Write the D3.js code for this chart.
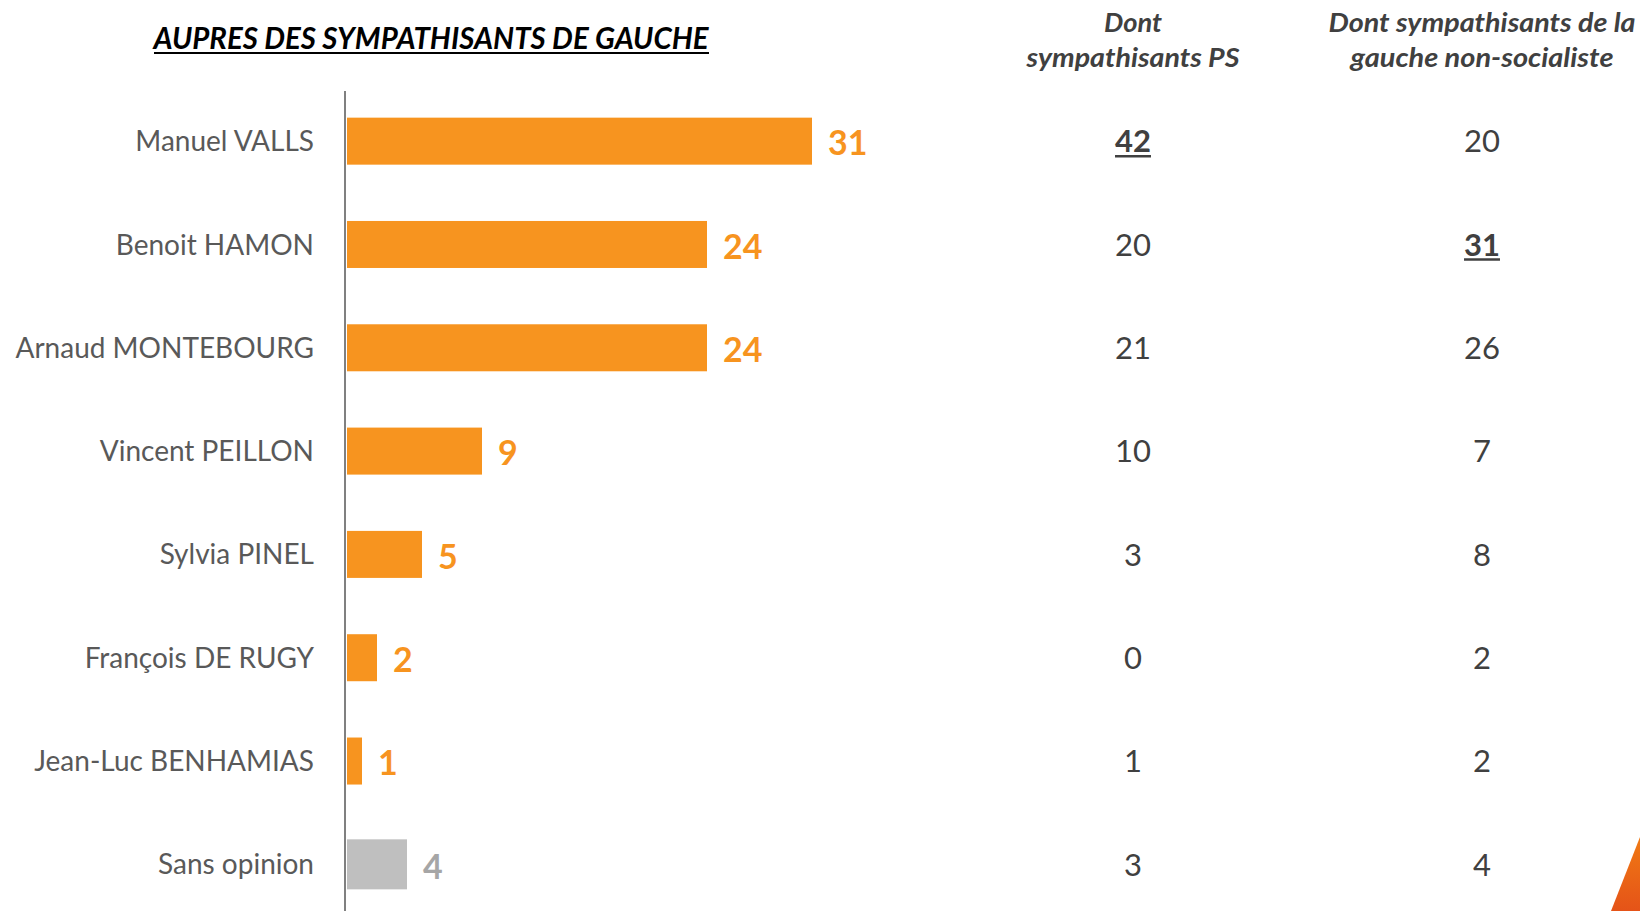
<!DOCTYPE html>
<html><head><meta charset="utf-8">
<script src="https://cdn.jsdelivr.net/npm/d3@7"></script>
<style>html,body{margin:0;padding:0;background:#fff;}svg{display:block;}</style>
</head><body>
<script>
const categories = ["Manuel VALLS","Benoit HAMON","Arnaud MONTEBOURG","Vincent PEILLON","Sylvia PINEL","François DE RUGY","Jean-Luc BENHAMIAS","Sans opinion"];
const values = [31,24,24,9,5,2,1,4];
const psValues = [42,20,21,10,3,0,1,3];
const nonSocValues = [20,31,26,7,8,2,2,4];
const title = "AUPRES DES SYMPATHISANTS DE GAUCHE";
const colHeaders = [["Dont","sympathisants PS"],["Dont sympathisants de la","gauche non-socialiste"]];

const W = 1640, H = 911;
const FONT = "Lato, 'Open Sans', 'Liberation Sans', sans-serif";
const svg = d3.select("body").append("svg").attr("width",W).attr("height",H);

const y = d3.scaleBand().domain(categories).range([89.5, 916]).paddingInner(0.545).paddingOuter(0.2725);
const x = d3.scaleLinear().domain([0, d3.max(values)]).range([347, 812]);
const colX = d3.scalePoint().domain([0,1]).range([1133, 1482]);

// title
svg.append("text").attr("x",431).attr("y",49).attr("text-anchor","middle")
  .attr("font-family",FONT).attr("font-size",31).attr("font-weight","bold").attr("font-style","italic")
  .attr("fill","#000").attr("textLength",555).attr("lengthAdjust","spacingAndGlyphs").text(title);
svg.append("line").attr("x1",154).attr("x2",709).attr("y1",53).attr("y2",53).attr("stroke","#000").attr("stroke-width",2);

// column headers
colHeaders.forEach((lines,i)=>{
  const widths = i===0 ? [58,213] : [307,263];
  lines.forEach((l,j)=>{
    svg.append("text").attr("x",colX(i)).attr("y",j===0?32:67).attr("text-anchor","middle")
      .attr("font-family",FONT).attr("font-size",27).attr("font-weight","bold").attr("font-style","italic")
      .attr("fill","#404040").attr("textLength",widths[j]).attr("lengthAdjust","spacingAndGlyphs").text(l);
  });
});

// bars
const isGray = d => d === "Sans opinion";
svg.selectAll("rect.bar").data(categories).join("rect").attr("class","bar")
  .attr("x",x(0)).attr("y",(d)=>y(d) - (isGray(d)?1.5:0)).attr("height",d=>y.bandwidth() + (isGray(d)?3:0))
  .attr("width",(d,i)=>x(values[i])-x(0))
  .attr("fill",d=>isGray(d)?"#BFBFBF":"#F7941F");

// axis line
svg.append("line").attr("x1",345).attr("x2",345).attr("y1",91).attr("y2",H).attr("stroke","#808080").attr("stroke-width",2);

// category labels
svg.selectAll("text.cat").data(categories).join("text").attr("class","cat")
  .attr("x",314).attr("y",d=>y(d)+y.bandwidth()/2).attr("dy","0.36em").attr("text-anchor","end")
  .attr("font-family",FONT).attr("font-size",28).attr("fill","#595959").text(d=>d);

// value labels
svg.selectAll("text.val").data(categories).join("text").attr("class","val")
  .attr("x",(d,i)=>x(values[i])+16).attr("y",d=>y(d)+y.bandwidth()/2).attr("dy","0.42em")
  .attr("font-family",FONT).attr("font-size",34).attr("font-weight","bold")
  .attr("fill",d=>isGray(d)?"#A6A6A6":"#F7941F").text((d,i)=>values[i]);

// columns
[psValues, nonSocValues].forEach((arr,ci)=>{
  const mx = d3.max(arr.slice(0,7));
  categories.forEach((c,i)=>{
    const v = arr[i];
    const bold = v===mx && i<7;
    const cy = y(c)+y.bandwidth()/2;
    const tx = svg.append("text").attr("x",colX(ci)).attr("y",cy).attr("dy","0.36em").attr("text-anchor","middle")
      .attr("font-family",FONT).attr("font-size",31).attr("font-weight",bold?"bold":"normal")
      .attr("fill","#404040").text(v);
    if(bold){
      const bb = tx.node().getBBox();
      svg.append("line").attr("x1",bb.x).attr("x2",bb.x+bb.width).attr("y1",cy+15).attr("y2",cy+15)
        .attr("stroke","#404040").attr("stroke-width",2.5);
    }
  });
});

// corner decoration
const defs = svg.append("defs");
const g = defs.append("linearGradient").attr("id","og").attr("x1","0").attr("y1","0").attr("x2","0").attr("y2","1");
g.append("stop").attr("offset","0").attr("stop-color","#F07A14");
g.append("stop").attr("offset","1").attr("stop-color","#E55318");
svg.append("polygon").attr("points","1611,911 1640,837 1640,911").attr("fill","url(#og)");
</script>
</body></html>
